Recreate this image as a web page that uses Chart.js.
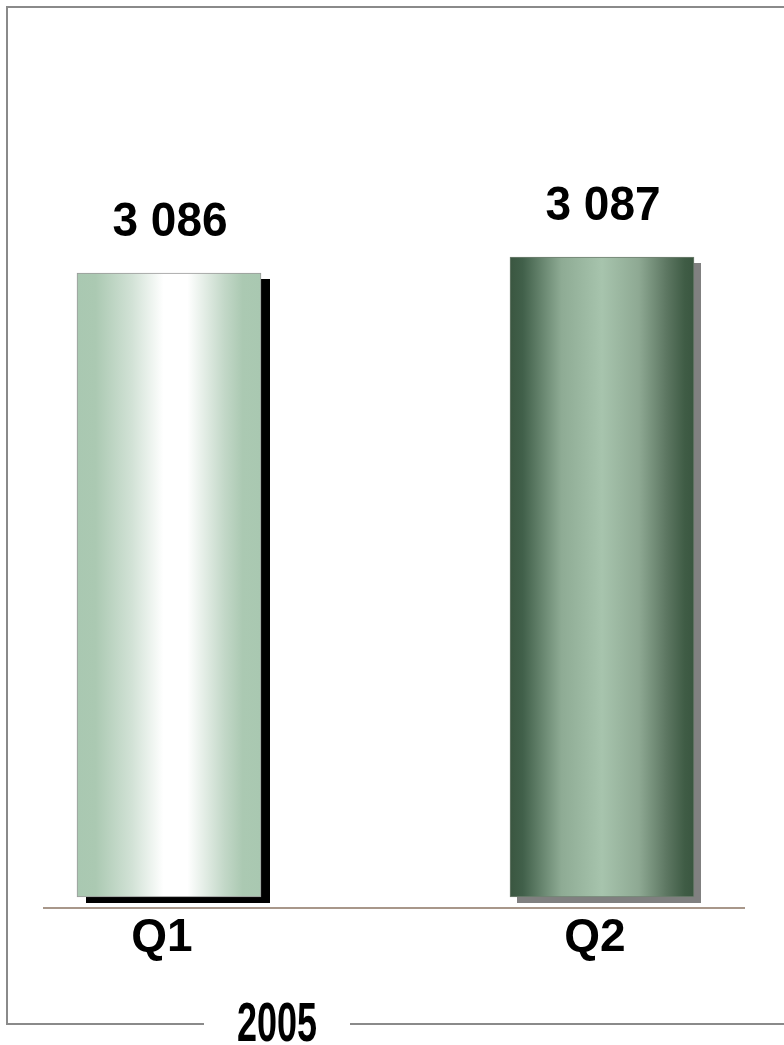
<!DOCTYPE html>
<html>
<head>
<meta charset="utf-8">
<script src="https://cdn.jsdelivr.net/npm/chart.js@4.4.0/dist/chart.umd.min.js"></script>
<style>
  html, body { margin: 0; padding: 0; background: #fff; overflow: hidden; }
  canvas { display: block; }
</style>
</head>
<body>
<canvas id="qchart" width="784" height="1045"></canvas>
<script>
// data
const categories = ['Q1', 'Q2'];
const values = [3086, 3087];
const yearLabel = '2005';

// the value axis is cut, bars start at its lower end
const yMin = 3047;
const yMax = 3100;

// look of each bar
const barGradients = [
  [[0, '#a9c8b1'], [0.1, '#abc9b2'], [0.3, '#d2e2d6'], [0.47, '#ffffff'], [0.6, '#ffffff'], [0.8, '#c3d8c8'], [0.9, '#abc9b2'], [1, '#a9c8b1']],
  [[0, '#3a5640'], [0.07, '#41604a'], [0.28, '#8eab94'], [0.5, '#a7c4ad'], [0.7, '#8ea993'], [0.85, '#5d7762'], [0.95, '#3f5c45'], [1, '#3a5640']]
];
const borderColors = ['#9a9a9a', '#6f7f70'];
const shadowColors = ['#000000', '#808080'];
const shadowOffsets = [[9, 6], [7, 6]];

const FONT = "'Liberation Sans', Arial, sans-serif";

function fmt(v) {
  return String(v).replace(/\B(?=(\d{3})+(?!\d))/g, ' ');
}

function drawText(ctx, text, x, baseline, size, sy) {
  ctx.save();
  ctx.translate(x, baseline);
  ctx.scale(1, sy);
  ctx.font = 'bold ' + size + 'px ' + FONT;
  ctx.fillStyle = '#000';
  ctx.textAlign = 'center';
  ctx.textBaseline = 'alphabetic';
  ctx.fillText(text, 0, 0);
  ctx.restore();
}

const BAR_W = 184;

function barFill(c) {
  const chart = c.chart;
  const i = c.dataIndex;
  if (!chart.chartArea || !chart.scales.x) return barGradients[i][3][1];
  const cx = chart.scales.x.getPixelForValue(i);
  const g = chart.ctx.createLinearGradient(cx - BAR_W / 2, 0, cx + BAR_W / 2, 0);
  barGradients[i].forEach(s => g.addColorStop(s[0], s[1]));
  return g;
}

const decor = {
  id: 'decor',
  beforeDraw(chart) {
    const ctx = chart.ctx;
    ctx.save();
    ctx.fillStyle = '#fff';
    ctx.fillRect(0, 0, chart.width, chart.height);
    ctx.restore();
  },
  beforeDatasetsDraw(chart) {
    const ctx = chart.ctx;
    const meta = chart.getDatasetMeta(0);
    ctx.save();
    meta.data.forEach((bar, i) => {
      const p = bar.getProps(['x', 'y', 'base', 'width'], true);
      ctx.fillStyle = shadowColors[i];
      ctx.fillRect(p.x - p.width / 2 + shadowOffsets[i][0], p.y + shadowOffsets[i][1], p.width, p.base - p.y);
    });
    ctx.restore();
  },
  afterDatasetsDraw(chart) {
    const ctx = chart.ctx;
    const area = chart.chartArea;
    const meta = chart.getDatasetMeta(0);

    // value labels and category labels
    meta.data.forEach((bar, i) => {
      const p = bar.getProps(['x', 'y'], true);
      drawText(ctx, fmt(values[i]), p.x + 1, p.y - 37, 46, 1.04);
      drawText(ctx, categories[i], p.x - 7, area.bottom + 54, 46, 1.0);
    });

    // base line under the bars
    ctx.save();
    ctx.strokeStyle = '#a8978a';
    ctx.lineWidth = 2;
    ctx.beginPath();
    ctx.moveTo(area.left - 126, area.bottom + 11);
    ctx.lineTo(area.right + 143, area.bottom + 11);
    ctx.stroke();

    // outer frame with a gap for the year
    ctx.strokeStyle = '#8a8a8a';
    ctx.lineWidth = 2;
    ctx.beginPath();
    ctx.moveTo(204, 1024);
    ctx.lineTo(7, 1024);
    ctx.lineTo(7, 7);
    ctx.lineTo(800, 7);
    ctx.moveTo(350, 1024);
    ctx.lineTo(800, 1024);
    ctx.stroke();
    ctx.restore();

    drawText(ctx, yearLabel, 277, 1041, 36, 1.55);
  }
};

new Chart(document.getElementById('qchart'), {
  type: 'bar',
  data: {
    labels: categories,
    datasets: [{
      data: values,
      base: yMin,
      backgroundColor: barFill,
      borderColor: borderColors,
      borderWidth: 1,
      borderSkipped: false,
      barThickness: BAR_W,
      clip: false
    }]
  },
  options: {
    responsive: false,
    animation: false,
    layout: { padding: { left: 169, right: 182, top: 49, bottom: 148 } },
    plugins: { legend: { display: false }, tooltip: { enabled: false } },
    scales: {
      x: { display: false, offset: false },
      y: { display: false, min: yMin, max: yMax }
    }
  },
  plugins: [decor]
});
</script>
</body>
</html>
